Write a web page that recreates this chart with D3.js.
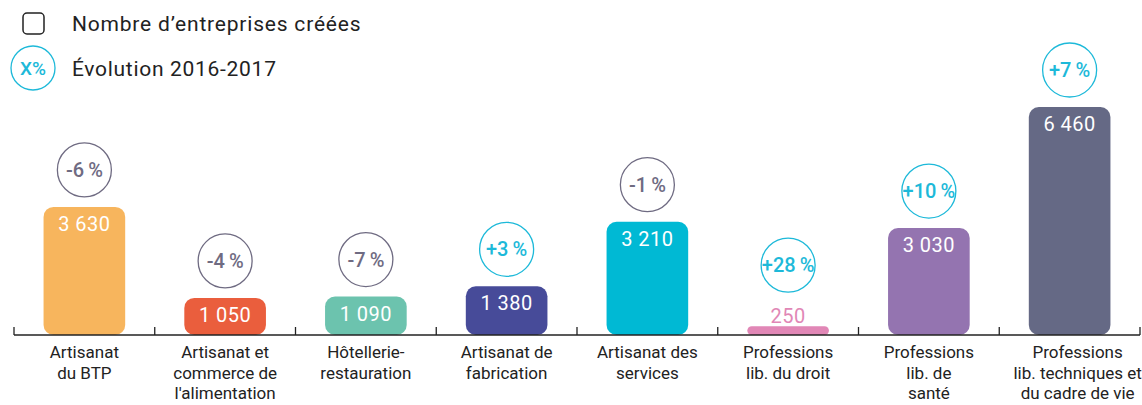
<!DOCTYPE html>
<html>
<head>
<meta charset="utf-8">
<script src="https://cdn.jsdelivr.net/npm/d3@7"></script>
<style>
  body { margin: 0; background: #fff; }
  svg text { font-family: Roboto, "Noto Sans", sans-serif; }
</style>
</head>
<body>
<div id="chart"></div>
<script>
// data
const categories = [
    ["Artisanat", "du BTP"],
    ["Artisanat et", "commerce de", "l'alimentation"],
    ["Hôtellerie-", "restauration"],
    ["Artisanat de", "fabrication"],
    ["Artisanat des", "services"],
    ["Professions", "lib. du droit"],
    ["Professions", "lib. de", "santé"],
    ["Professions", "lib. techniques et", "du cadre de vie"]
]
const values = [3630, 1050, 1090, 1380, 3210, 250, 3030, 6460]
const valueLabels = ["3 630", "1 050", "1 090", "1 380", "3 210", "250", "3 030", "6 460"]
const evolution = [-6, -4, -7, 3, -1, 28, 10, 7]
const barColors = ["#f7b55d", "#ea5e3d", "#6cc3ae", "#474b99", "#00b9d4", "#e187b6", "#9474b0", "#656985"]

const width = 1142, height = 405
const axisY = 335
const cyan = "#1db9d9", grey = "#6f6b82"

let svg = d3.select("#chart").append("svg")
    .attr("width", width)
    .attr("height", height)

// scales
let x = d3.scaleBand()
    .domain(d3.range(values.length))
    .range([14, 1140])
    .paddingInner(0.42)
    .paddingOuter(0.21)

let y = d3.scaleLinear()
    .domain([0, 6460])
    .range([axisY, 107])

// legend
let legend = svg.append("g")
legend.append("rect")
    .attr("x", 23).attr("y", 13)
    .attr("width", 21).attr("height", 21)
    .attr("rx", 4)
    .attr("fill", "none")
    .attr("stroke", "#222")
    .attr("stroke-width", 1.5)
legend.append("text")
    .attr("x", 72).attr("y", 31)
    .attr("font-size", 21)
    .attr("letter-spacing", 0.8)
    .attr("fill", "#222")
    .text("Nombre d\u2019entreprises créées")
legend.append("circle")
    .attr("cx", 33).attr("cy", 68).attr("r", 22)
    .attr("fill", "none")
    .attr("stroke", cyan)
    .attr("stroke-width", 1.3)
legend.append("text")
    .attr("x", 33).attr("y", 75)
    .attr("text-anchor", "middle")
    .attr("font-size", 19)
    .attr("font-weight", 500)
    .attr("fill", cyan)
    .text("X%")
legend.append("text")
    .attr("x", 72).attr("y", 76)
    .attr("font-size", 21)
    .attr("letter-spacing", 0.7)
    .attr("fill", "#222")
    .text("Évolution 2016-2017")

// bars
let bars = svg.append("g")
bars.selectAll("rect")
    .data(values)
    .enter()
    .append("rect")
    .attr("x", (d, i) => x(i))
    .attr("y", d => y(d))
    .attr("width", x.bandwidth())
    .attr("height", d => axisY - y(d))
    .attr("rx", d => Math.min(10, (axisY - y(d)) / 2))
    .attr("fill", (d, i) => barColors[i])

// value labels - inside bar, or above if bar too short
const small = d => axisY - y(d) < 25
bars.selectAll("text")
    .data(values)
    .enter()
    .append("text")
    .attr("x", (d, i) => x(i) + x.bandwidth() / 2)
    .attr("y", d => small(d) ? y(d) - 3 : y(d) + 24)
    .attr("text-anchor", "middle")
    .attr("font-size", 20)
    .attr("letter-spacing", 0.5)
    .attr("fill", (d, i) => small(d) ? barColors[i] : "#fff")
    .text((d, i) => valueLabels[i])

// evolution circles
let evo = svg.append("g").selectAll("g")
    .data(evolution)
    .enter()
    .append("g")
    .attr("transform", (d, i) => {
        let top = small(values[i]) ? y(values[i]) - 24 : y(values[i])
        return `translate(${x(i) + x.bandwidth() / 2}, ${top - 37})`
    })
evo.append("circle")
    .attr("r", 27)
    .attr("fill", "#fff")
    .attr("stroke", d => d < 0 ? grey : cyan)
    .attr("stroke-width", 1.3)
evo.append("text")
    .attr("y", 7)
    .attr("text-anchor", "middle")
    .attr("font-size", 20)
    .attr("font-weight", 500)
    .attr("fill", d => d < 0 ? grey : cyan)
    .text(d => (d > 0 ? "+" : "-") + Math.abs(d) + "\u2009%")

// axis line and boundary ticks
let axis = svg.append("g")
axis.append("line")
    .attr("x1", 14).attr("x2", 1140)
    .attr("y1", axisY).attr("y2", axisY)
    .attr("stroke", "#222")
    .attr("stroke-width", 1.3)
axis.selectAll(".tick")
    .data(d3.range(values.length + 1))
    .enter()
    .append("line")
    .attr("class", "tick")
    .attr("x1", i => 14 + i * x.step())
    .attr("x2", i => 14 + i * x.step())
    .attr("y1", axisY - 8)
    .attr("y2", axisY)
    .attr("stroke", "#222")
    .attr("stroke-width", 1.3)

// category labels
let labels = svg.append("g").selectAll("text")
    .data(categories)
    .enter()
    .append("text")
    .attr("text-anchor", "middle")
    .attr("font-size", 17)
    .attr("fill", "#222")
    .attr("transform", (d, i) => `translate(${x(i) + x.bandwidth() / 2 + (i == 7 ? 8 : 0)}, 358)`)
labels.selectAll("tspan")
    .data(d => d)
    .enter()
    .append("tspan")
    .attr("x", 0)
    .attr("y", (d, j) => j * 20.5)
    .text(d => d)
</script>
</body>
</html>
